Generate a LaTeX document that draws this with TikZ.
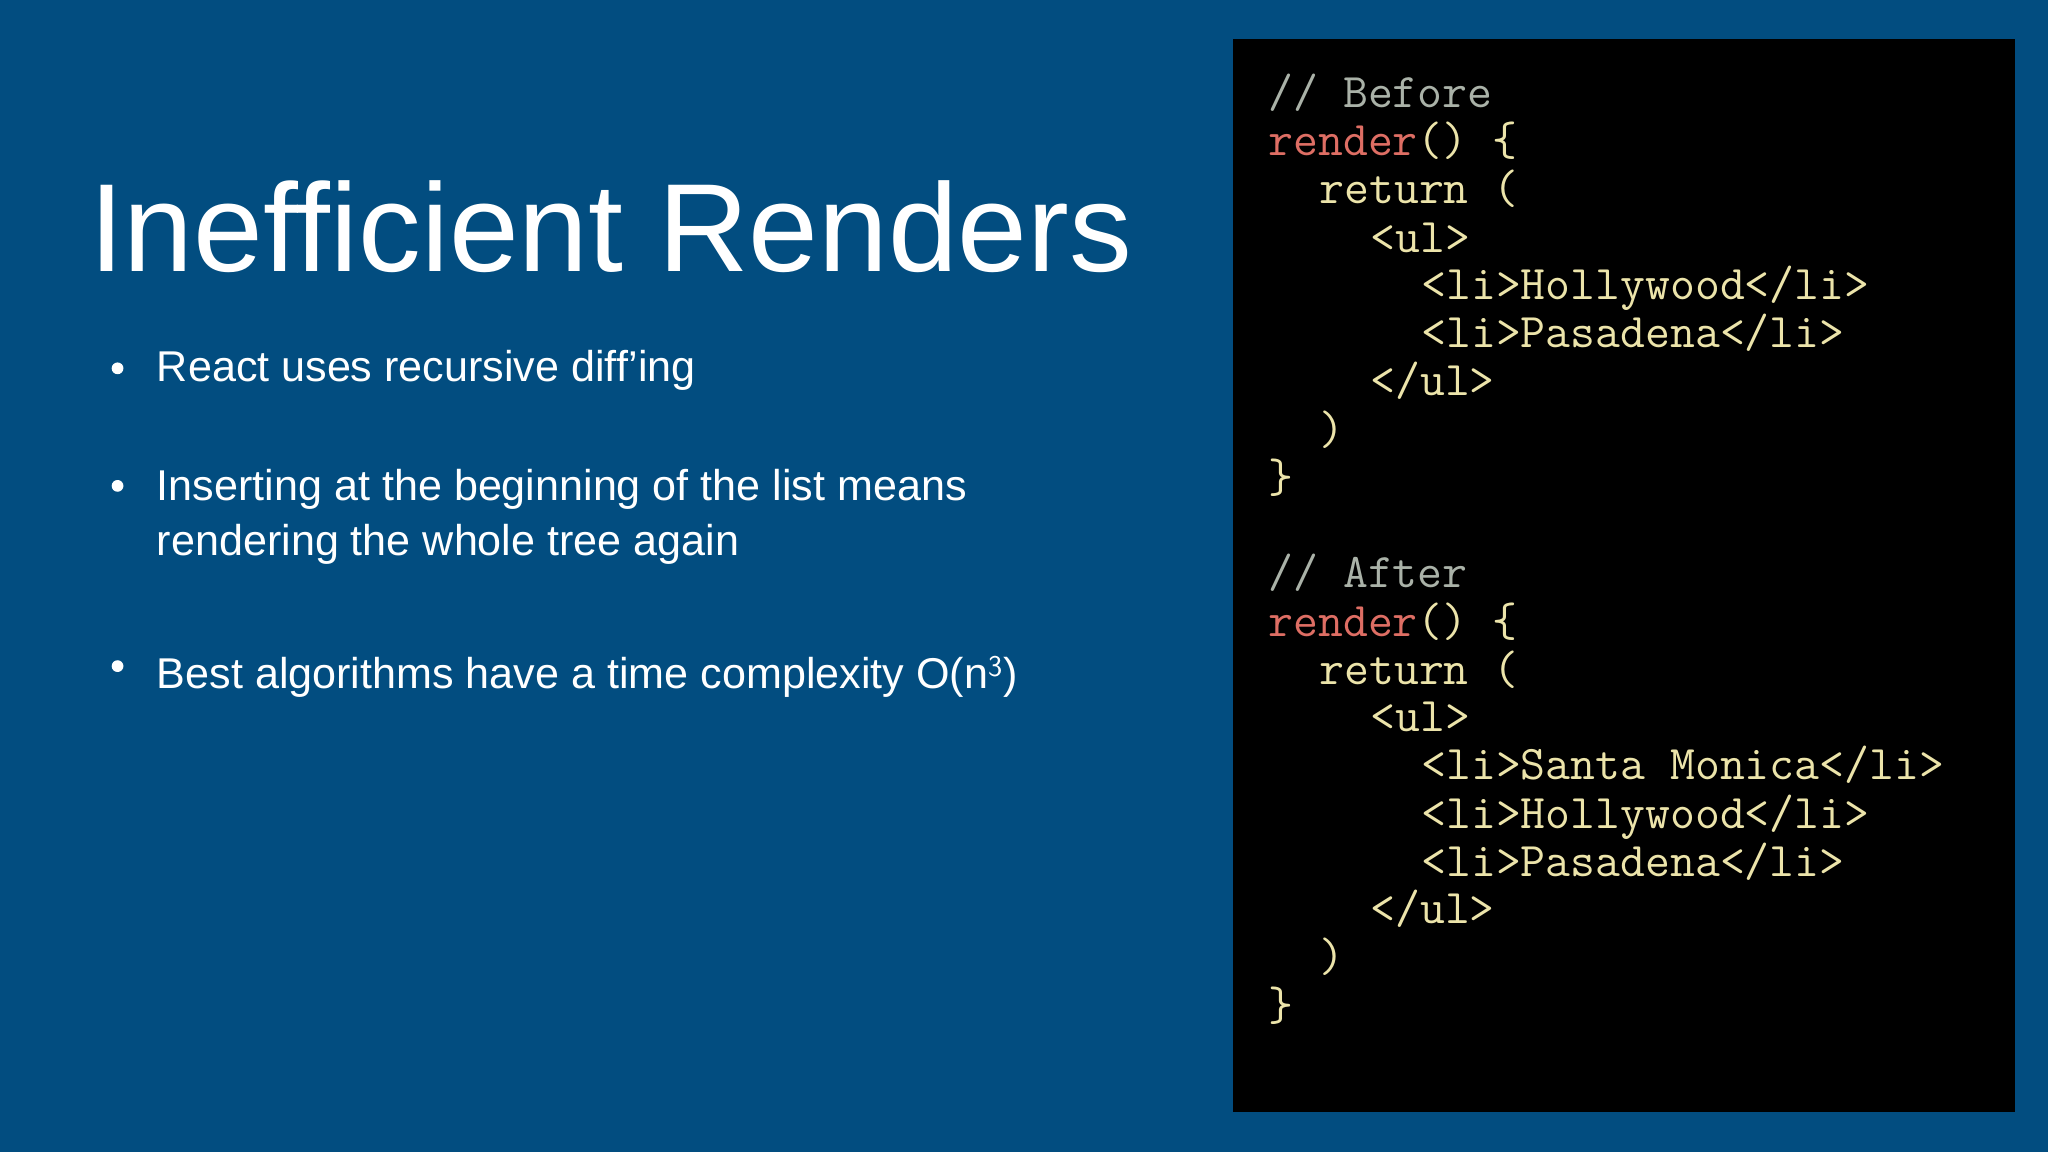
\documentclass[tikz,border=0pt]{standalone}
\usepackage{fontspec}
\setmainfont{Liberation Sans}
\newfontfamily\codefont{Latin Modern Mono}
\definecolor{bg}{RGB}{2,77,128}
\definecolor{cred}{RGB}{222,110,100}
\definecolor{cyel}{RGB}{236,228,170}
\definecolor{cgray}{RGB}{170,178,168}
\begin{document}
\begin{tikzpicture}[x=1pt,y=-1pt,
  codeline/.style={anchor=base west,inner sep=0,font=\codefont\fontsize{37}{37}\selectfont,text=cyel},
  codecomment/.style={codeline,text=cgray,font=\codefont\bfseries\fontsize{37}{37}\selectfont},
  bl/.style={anchor=base west,inner sep=0,text=white,font=\fontsize{33}{42}\selectfont,align=left},
  bdot/.style={circle,fill=white,inner sep=0,minimum size=9pt}]
\fill[bg] (0,0) rectangle (1568,882);
\useasboundingbox (0,0) rectangle (1568,882);
\fill[black] (944,30) rectangle (1543,851);
\node[anchor=base west,inner sep=0,text=white,font=\fontsize{96}{96}\selectfont] (title) at (68,208) {Inefficient Renders};
\node[bdot] (d1) at (90,282) {};
\node[bl] (b1) at (120,292) {React uses recursive diff’ing};
\node[bdot] (d2) at (90,372) {};
\node[bl] (b2) at (120,383) {Inserting at the beginning of the list means};
\node[bl] (b2b) at (120,425) {rendering the whole tree again};
\node[bdot] (d3) at (90,510) {};
\node[bl] (b3) at (120,527) {Best algorithms have a time complexity O(n$^{\mathsf{3}}$)};
\node[codecomment] (c1) at (971,82) {// Before};
\node[codeline] (c2) at (971,119) {\textcolor{cred}{render}() \{};
\node[codeline] (c3) at (1010,156) {return (};
\node[codeline] (c4) at (1049,193) {<ul>};
\node[codeline] (c5) at (1088,229) {<li>Hollywood</li>};
\node[codeline] (c6) at (1088,266) {<li>Pasadena</li>};
\node[codeline] (c7) at (1049,303) {</ul>};
\node[codeline] (c8) at (1010,340) {)};
\node[codeline] (c9) at (971,377) {\}};
\node[codecomment] (a1) at (971,450) {// After};
\node[codeline] (a2) at (971,487) {\textcolor{cred}{render}() \{};
\node[codeline] (a3) at (1010,524) {return (};
\node[codeline] (a4) at (1049,560) {<ul>};
\node[codeline] (a5) at (1088,597) {<li>Santa Monica</li>};
\node[codeline] (a6) at (1088,634) {<li>Hollywood</li>};
\node[codeline] (a7) at (1088,671) {<li>Pasadena</li>};
\node[codeline] (a8) at (1049,707) {</ul>};
\node[codeline] (a9) at (1010,744) {)};
\node[codeline] (a10) at (971,781) {\}};
\end{tikzpicture}
\end{document}
